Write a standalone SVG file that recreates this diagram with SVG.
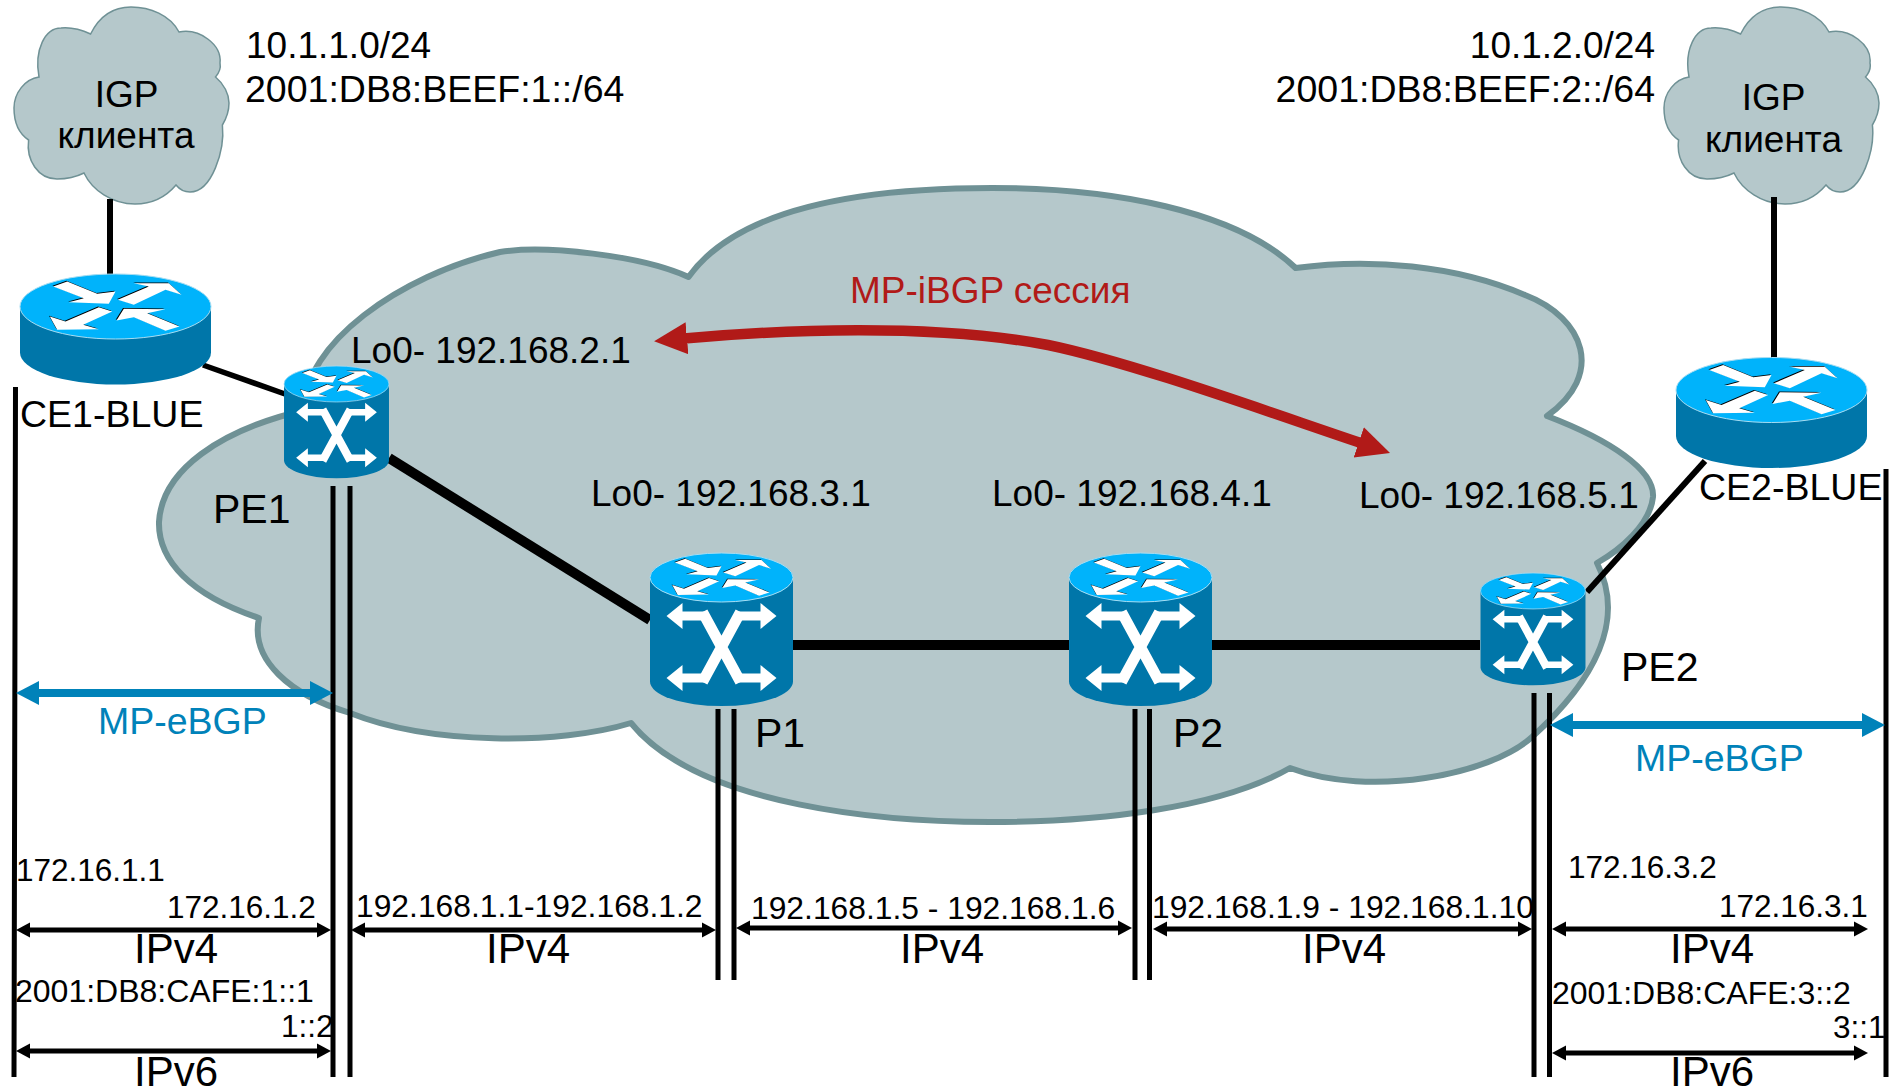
<svg xmlns="http://www.w3.org/2000/svg" width="1894" height="1088" viewBox="0 0 1894 1088">
<style>
text{font-family:"Liberation Sans",Arial,sans-serif;fill:#000}
.cloud{fill:#B5C8CB;stroke:#6F9195}
.l36{font-size:37px}
.l37{font-size:37.5px}
.l41{font-size:41px}
.l42{font-size:42px}
.s31{font-size:31.5px}
.a32{font-size:32px}
.m31{font-size:31.8px}
.mid{text-anchor:middle}
.end{text-anchor:end}
.red{fill:#B11A18}
.side{fill:#0076A9}
.top{fill:#00B3FB;stroke:#A8DDF2;stroke-width:1}
.wire{fill:none;stroke:#000}
.bar{fill:none;stroke:#000;stroke-width:5}
.bl{fill:none;stroke:#0082B9;stroke-width:8;marker-start:url(#mb);marker-end:url(#mb)}
.bk{fill:none;stroke:#000;stroke-width:5;marker-start:url(#mk);marker-end:url(#mk)}
.xa{fill:none;stroke:#fff;stroke-width:9}
.xd{fill:none;stroke:#fff;stroke-width:11}
</style>
<defs>
<marker id="mb" markerUnits="userSpaceOnUse" markerWidth="24" markerHeight="26" refX="3" refY="13" orient="auto-start-reverse"><path d="M0,1 L23,13 L0,25Z" fill="#0082B9"/></marker>
<marker id="mk" markerUnits="userSpaceOnUse" markerWidth="15" markerHeight="16" refX="3" refY="8" orient="auto-start-reverse"><path d="M0,0.5 L14,8 L0,15.5Z" fill="#000"/></marker>
<marker id="mr" markerUnits="userSpaceOnUse" markerWidth="36" markerHeight="36" refX="3" refY="18" orient="auto-start-reverse"><path d="M0,2 L33,18 L0,34Z" fill="#B11A18"/></marker>
<g id="arrows">
<g fill="#000" transform="translate(-0.8,-0.8)">
<path d="M-62.3,-20 L-48.3,-25 L-18.3,-12.7 L0,-15 L-6.7,-2.7 L-46.7,-4.3 L-31.7,-8.3Z"/>
<path d="M2.3,-6.7 L33.3,-20 L18.3,-23.3 L53.3,-23.3 L66,-11.7 L50,-16.7 L18.3,-1.7Z"/>
<path d="M-3.3,5 L-16.7,.7 L-50,15 L-65.7,10 L-58.3,23.3 L-16.7,22.7 L-32.3,18.3Z"/>
<path d="M1,14 L8.3,2.3 L50,2.7 L31.7,6.7 L64,20 L50,24.3 L18.3,10.7Z"/>
</g>
<g fill="#fff">
<path d="M-62.3,-20 L-48.3,-25 L-18.3,-12.7 L0,-15 L-6.7,-2.7 L-46.7,-4.3 L-31.7,-8.3Z"/>
<path d="M2.3,-6.7 L33.3,-20 L18.3,-23.3 L53.3,-23.3 L66,-11.7 L50,-16.7 L18.3,-1.7Z"/>
<path d="M-3.3,5 L-16.7,.7 L-50,15 L-65.7,10 L-58.3,23.3 L-16.7,22.7 L-32.3,18.3Z"/>
<path d="M1,14 L8.3,2.3 L50,2.7 L31.7,6.7 L64,20 L50,24.3 L18.3,10.7Z"/>
</g>
</g>
<g id="router">
<path class="side" d="M-95.5,0 V46 A95.5,32 0 0 0 95.5,46 V0Z"/>
<ellipse class="top" cx="0" cy="0" rx="95.5" ry="32.5"/>
<use href="#arrows"/>
</g>
<g id="switch">
<path class="side" d="M-71.5,0 V104 A71.5,24.5 0 0 0 71.5,104 V0Z"/>
<ellipse class="top" cx="0" cy="0" rx="71.5" ry="24.5"/>
<use href="#arrows" transform="scale(.75)"/>
<g transform="translate(0,69.5)">
<path class="xa" d="M-42,-31 H-17 M42,-31 H17 M-42,31 H-17 M42,31 H17"/>
<path class="xd" d="M-19,-35 L19,35 M19,-35 L-19,35"/>
<path fill="#fff" d="M-55,-31 L-39,-44 V-18Z M55,-31 L39,-44 V-18Z M-55,31 L-39,18 V44Z M55,31 L39,18 V44Z"/>
</g>
</g>
<path id="sc" d="M90.6,34 C100,15 115,7 131,7 C150,7 170,15 179,32 C200,28 222,45 220,63 C221,68 219,73 215.5,77 C224,84 229,94 229,103 C229,112 226,119 222.4,125 C225,150 212,192 190,192 C186,192 180,190 176,185 C165,198 150,204 135,204 C112,204 92,190 84,173 C74,178 65,179 57,179 C38,179 26,160 28.6,140 C18,133 14,120 14,108 C14,93 25,79 39,77 C34,50 45,28 61,28 C72,27 82,30 90.6,34Z"/>
</defs>

<g id="cloud-core"><path class="cloud" stroke-width="6" stroke-linejoin="round" d="M688.5,277 C740,205 870,188 992,188 C1110,188 1235,210 1295.6,268 C1370,258 1455,265 1525,295 C1585,318 1605,375 1547,416 C1610,440 1655,470 1653,497 C1650,525 1620,550 1597,563 C1626,620 1595,680 1532,737 C1490,775 1370,798 1290,768 C1220,808 1100,822 990,822 C890,822 700,808 631,723 C560,745 430,745 350,713 C290,695 250,660 259,618 C190,595 158,560 159,522 C162,470 220,430 305,410 C302,345 400,275 500,252 C545,245 640,255 688.5,277Z"/></g>
<g id="cloud-left"><use href="#sc" class="cloud" stroke-width="1.5"/>
<text class="l36 mid" x="126.5" y="107">IGP</text><text class="l36 mid" x="126" y="148">клиента</text></g>
<g id="cloud-right"><use href="#sc" class="cloud" stroke-width="1.5" transform="translate(1650,0)"/>
<text class="l36 mid" x="1773.5" y="110">IGP</text><text class="l36 mid" x="1773.5" y="152">клиента</text></g>

<g id="connectors">
<path class="wire" stroke-width="6" d="M110,199 V276"/>
<path class="wire" stroke-width="6" d="M1774,197 V358"/>
<path class="wire" stroke-width="5.5" d="M203,365 L285,394"/>
<path class="wire" stroke-width="10" d="M389,458 L650,620"/>
<path class="wire" stroke-width="10" d="M793,645 H1069 M1212,645 H1480"/>
<path class="wire" stroke-width="6" d="M1705,461 L1587,592"/>
<path class="bar" d="M15.5,387 L14,1077 M333,486 V1077 M350,486 V1077 M718,709 V980 M734,709 V980 M1135,709 V980 M1149.5,709 V980 M1534,693 V1077 M1549.5,693 V1077 M1886,469 V1077"/>
<path class="bl" d="M36,693 H313"/>
<path class="bl" d="M1570,725 H1865"/>
<path class="bk" d="M27,930 H320"/>
<path class="bk" d="M27,1051 H320"/>
<path class="bk" d="M362,930 H705"/>
<path class="bk" d="M747,928 H1121"/>
<path class="bk" d="M1164,929 H1521"/>
<path class="bk" d="M1563,929 H1857"/>
<path class="bk" d="M1563,1053 H1857"/>
<path fill="none" stroke="#B11A18" stroke-width="10.5" marker-start="url(#mr)" marker-end="url(#mr)" d="M684,338.5 C780,330 930,323 1048,345 C1130,362 1260,409 1361.6,443.3"/>
</g>

<g id="CE1"><use href="#router" transform="translate(115.5,306.5)"/></g>
<g id="CE2"><use href="#router" transform="translate(1771.5,390)"/></g>
<g id="PE1"><use href="#switch" transform="translate(336.5,384) scale(.734)"/></g>
<g id="P1"><use href="#switch" transform="translate(721.5,577.5)"/></g>
<g id="P2"><use href="#switch" transform="translate(1140.5,577.5)"/></g>
<g id="PE2"><use href="#switch" transform="translate(1533,591) scale(.734)"/></g>

<g id="labels">
<text class="l36" x="246" y="58">10.1.1.0/24</text>
<text class="l37" x="245" y="102">2001:DB8:BEEF:1::/64</text>
<text class="l36 end" x="1655" y="58">10.1.2.0/24</text>
<text class="l37 end" x="1655" y="102">2001:DB8:BEEF:2::/64</text>
<text class="l37" x="20" y="427">CE1-BLUE</text>
<text class="l37" x="1699" y="500">CE2-BLUE</text>
<text class="l36" x="351" y="363">Lo0- 192.168.2.1</text>
<text class="l36" x="591" y="506">Lo0- 192.168.3.1</text>
<text class="l36" x="992" y="506">Lo0- 192.168.4.1</text>
<text class="l36" x="1359" y="508">Lo0- 192.168.5.1</text>
<text class="l41" x="213" y="523">PE1</text>
<text class="l41" x="1621" y="681">PE2</text>
<text class="l41" x="755" y="747">P1</text>
<text class="l41" x="1173" y="747">P2</text>
<text class="l36 red" x="850" y="303">MP-iBGP сессия</text>
<text class="l37" x="98" y="734" style="fill:#0082B9">MP-eBGP</text>
<text class="l37" x="1635" y="771" style="fill:#0082B9">MP-eBGP</text>
<text class="s31" x="16" y="881">172.16.1.1</text>
<text class="s31" x="167" y="918">172.16.1.2</text>
<text class="l42 mid" x="176" y="963">IPv4</text>
<text class="a32" x="15" y="1002">2001:DB8:CAFE:1::1</text>
<text class="s31" x="281" y="1037">1::2</text>
<text class="l42 mid" x="176" y="1086">IPv6</text>
<text class="m31" x="356" y="917">192.168.1.1-192.168.1.2</text>
<text class="m31" x="751" y="919">192.168.1.5 - 192.168.1.6</text>
<text class="m31" x="1152" y="918">192.168.1.9 - 192.168.1.10</text>
<text class="l42 mid" x="528" y="963">IPv4</text>
<text class="l42 mid" x="942" y="963">IPv4</text>
<text class="l42 mid" x="1344" y="963">IPv4</text>
<text class="l42 mid" x="1712" y="963">IPv4</text>
<text class="s31" x="1568" y="878">172.16.3.2</text>
<text class="s31" x="1719" y="917">172.16.3.1</text>
<text class="a32" x="1552" y="1004">2001:DB8:CAFE:3::2</text>
<text class="s31" x="1833" y="1038">3::1</text>
<text class="l42 mid" x="1712" y="1086">IPv6</text>
</g>
</svg>
